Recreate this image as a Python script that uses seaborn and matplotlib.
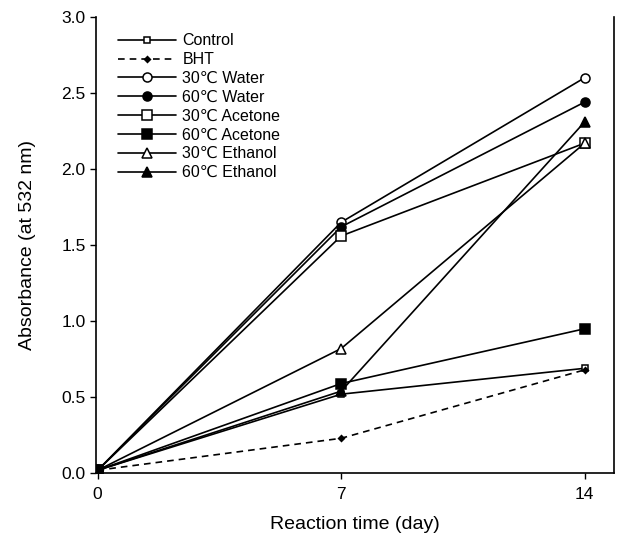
import pandas as pd
import matplotlib
matplotlib.use("Agg")
import matplotlib.pyplot as plt
import seaborn as sns

# Reaction time (day) and absorbance at 532 nm
days = [0, 7, 14]
control = [0.02, 0.52, 0.69]
bht = [0.02, 0.23, 0.68]
water_30 = [0.02, 1.65, 2.60]
water_60 = [0.02, 1.62, 2.44]
acetone_30 = [0.02, 1.56, 2.17]
acetone_60 = [0.02, 0.59, 0.95]
ethanol_30 = [0.02, 0.82, 2.17]
ethanol_60 = [0.02, 0.54, 2.31]

labels = ["Control", "BHT", "30\u2103 Water", "60\u2103 Water",
          "30\u2103 Acetone", "60\u2103 Acetone", "30\u2103 Ethanol", "60\u2103 Ethanol"]
series = [control, bht, water_30, water_60, acetone_30, acetone_60, ethanol_30, ethanol_60]

df = pd.concat([pd.DataFrame({"day": days, "absorbance": vals, "sample": lab})
                for lab, vals in zip(labels, series)], ignore_index=True)

# marker, fill, size, linestyle
styles = {
    "Control": ("s", "white", 4, "-"),
    "BHT": ("D", "black", 3, (0, (4, 3))),
    "30\u2103 Water": ("o", "white", 6.5, "-"),
    "60\u2103 Water": ("o", "black", 6.5, "-"),
    "30\u2103 Acetone": ("s", "white", 6.5, "-"),
    "60\u2103 Acetone": ("s", "black", 6.5, "-"),
    "30\u2103 Ethanol": ("^", "white", 7.5, "-"),
    "60\u2103 Ethanol": ("^", "black", 7.5, "-"),
}

sns.set_style("ticks")
plt.rcParams['font.family'] = ['Liberation Sans', 'DejaVu Sans']
plt.rcParams['text.color'] = 'black'
plt.rcParams['axes.labelcolor'] = 'black'
plt.rcParams['xtick.color'] = 'black'
plt.rcParams['ytick.color'] = 'black'

fig = plt.figure(figsize=(6.23, 5.44), dpi=100)
ax = fig.add_axes([0.154, 0.13, 0.832, 0.839])

for lab in labels:
    m, fc, ms, ls = styles[lab]
    sub = df[df["sample"] == lab]
    sns.lineplot(data=sub, x="day", y="absorbance", ax=ax, color="black", linestyle=ls,
                 linewidth=1.2, marker=m, markersize=ms, markerfacecolor=fc,
                 markeredgecolor="black", markeredgewidth=1.1, label=lab)

ax.set_xlim(-0.05, 14.85)
ax.set_ylim(0, 3.0)
ax.set_xticks(days)
ax.set_yticks([0.0, 0.5, 1.0, 1.5, 2.0, 2.5, 3.0])
ax.set_yticklabels(["0.0", "0.5", "1.0", "1.5", "2.0", "2.5", "3.0"])
ax.tick_params(axis="both", labelsize=12.5, length=4, width=1)
ax.tick_params(axis="x", pad=6)
ax.set_xlabel("Reaction time (day)", fontsize=14, labelpad=10)
ax.set_ylabel("Absorbance (at 532 nm)", fontsize=14, labelpad=18)

for side in ["left", "bottom", "right"]:
    ax.spines[side].set_color("black")
    ax.spines[side].set_linewidth(1.2)
ax.spines["top"].set_visible(False)

ax.legend(loc="upper left", frameon=False, fontsize=11.5, handlelength=3.6,
          numpoints=1, labelspacing=0.24, handletextpad=0.4,
          bbox_to_anchor=(0.025, 0.985), borderaxespad=0.2)

fig.savefig("out.png", dpi=100)
